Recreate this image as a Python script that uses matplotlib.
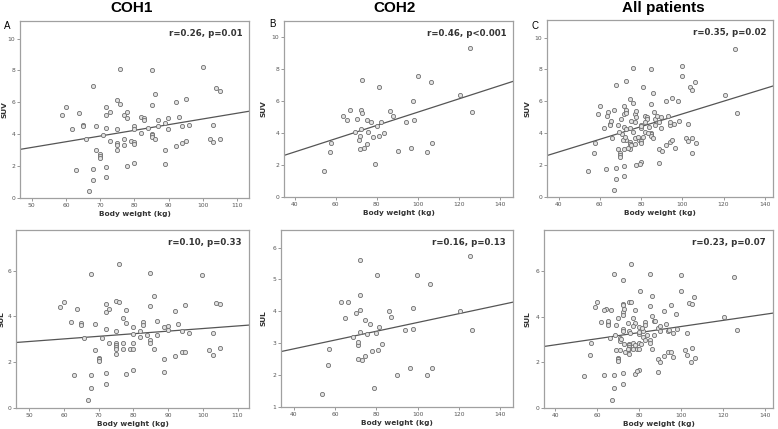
import numpy as np
import matplotlib
matplotlib.use('Agg')
import matplotlib.pyplot as plt

# COH1 : body weight (kg) vs SUV / SUL
w1_suv = [58.9, 59.9, 61.9, 62.9, 63.9, 64.9, 64.9, 65.9, 66.7, 67.9, 67.9, 67.8, 68.9, 68.9, 69.9, 69.9,
          69.9, 70.8, 71.8, 71.8, 71.8, 71.8, 71.8, 72.9, 72.9, 74.8, 74.8, 74.8, 74.8, 74.8, 75.9, 75.9,
          76.9, 76.9, 76.9, 77.8, 77.8, 77.8, 78.9, 79.9, 79.9, 79.9, 79.9, 79.9, 81.9, 81.9, 82.8, 82.9,
          84.0, 85.0, 85.0, 85.0, 85.0, 85.0, 85.9, 85.9, 86.9, 86.9, 88.8, 88.8, 88.8, 89.9, 89.9, 92.0,
          92.0, 92.9, 93.9, 93.9, 94.9, 94.9, 96.0, 99.9, 101.9, 102.9, 102.9, 103.9, 104.9, 104.9]
suv1 = [5.2, 5.69, 4.31, 1.77, 5.31, 4.6, 4.5, 3.73, 0.42, 7.0, 1.81, 1.1, 4.5, 3.02, 2.75, 2.63,
        2.52, 3.92, 5.69, 5.2, 4.42, 1.92, 1.31, 5.42, 3.6, 6.13, 4.31, 3.44, 3.35, 3.02, 8.1, 5.9,
        5.2, 3.73, 3.31, 5.4, 5.0, 2.02, 3.6, 4.5, 4.31, 3.52, 3.4, 2.21, 5.1, 4.1, 5.0, 4.92,
        4.42, 8.02, 5.81, 4.02, 3.92, 3.8, 6.5, 3.73, 4.92, 4.5, 4.71, 3.02, 2.13, 5.0, 4.31, 6.0,
        3.23, 5.1, 4.5, 3.44, 6.21, 3.6, 4.6, 8.19, 3.73, 4.6, 3.52, 6.9, 6.71, 3.73]

w1_sul = [58.9, 60.0, 61.9, 63.0, 63.9, 65.0, 65.0, 65.9, 66.9, 67.9, 67.9, 67.9, 68.9, 68.9, 70.0, 70.0,
          70.0, 70.9, 72.0, 72.0, 72.0, 72.0, 72.0, 72.9, 72.9, 75.0, 75.9, 75.0, 75.0, 75.0, 75.0, 75.0,
          75.0, 75.9, 77.0, 77.0, 77.0, 77.9, 77.9, 77.9, 78.9, 79.9, 79.9, 79.9, 79.9, 79.9, 82.0, 82.0,
          82.9, 82.9, 83.9, 84.9, 84.9, 84.9, 84.9, 85.9, 85.9, 86.9, 86.9, 88.9, 88.9, 88.9, 89.9, 89.9,
          91.9, 91.9, 92.9, 93.9, 93.9, 94.9, 94.9, 95.9, 99.9, 101.9, 102.9, 102.9, 103.9, 104.9, 104.9]
sul1 = [4.41, 4.63, 3.77, 1.43, 4.34, 3.72, 3.62, 3.08, 0.34, 5.85, 1.46, 0.89, 3.65, 2.55, 2.19, 2.13,
        2.06, 3.07, 4.54, 4.2, 3.47, 1.55, 1.05, 4.34, 2.82, 4.66, 4.64, 3.36, 2.82, 2.74, 2.66, 2.6,
        2.38, 6.31, 3.93, 2.85, 2.6, 4.29, 3.72, 1.5, 2.6, 3.56, 3.24, 2.85, 2.6, 1.65, 3.36, 3.09,
        3.75, 3.64, 3.21, 4.45, 5.88, 2.98, 2.85, 4.9, 2.58, 3.82, 3.21, 3.52, 2.16, 1.56, 3.58, 3.39,
        4.25, 2.29, 3.66, 3.36, 2.45, 4.51, 2.44, 3.27, 5.8, 2.54, 3.27, 2.31, 4.6, 4.53, 2.64]

# COH2
w2_suv = [54.1, 57.4, 57.9, 63.7, 65.6, 66.9, 69.2, 70.5, 71.4, 71.7, 72.0, 72.5, 72.8, 72.5, 72.8, 73.8,
          75.1, 75.1, 75.9, 77.3, 78.3, 79.3, 80.1, 80.9, 81.1, 81.9, 83.3, 86.4, 87.7, 90.2, 94.2, 96.5,
          97.8, 98.3, 100.1, 104.6, 106.4, 106.9, 120.7, 125.4, 126.5]
suv2 = [1.6, 2.79, 3.4, 5.08, 4.79, 5.46, 4.08, 4.9, 3.58, 3.0, 3.79, 5.46, 5.25, 4.25, 7.29, 3.08,
        4.79, 3.29, 4.08, 4.69, 3.75, 2.08, 4.46, 6.88, 3.79, 4.69, 4.0, 5.35, 5.08, 2.9, 4.69, 3.08,
        6.0, 4.79, 7.58, 2.79, 7.19, 3.4, 6.4, 9.29, 5.29]

w2_sul = [53.6, 56.6, 57.1, 63.1, 65.0, 66.5, 68.6, 70.0, 71.0, 71.2, 71.0, 72.0, 72.3, 72.0, 72.3, 73.1,
          74.6, 74.7, 75.5, 77.0, 77.8, 78.8, 79.7, 80.5, 80.7, 81.5, 82.8, 86.0, 87.3, 89.8, 94.0, 96.1,
          97.5, 97.8, 99.9, 104.5, 106.2, 106.7, 120.5, 125.3, 126.4]
sul2 = [1.4, 2.32, 2.83, 4.29, 3.79, 4.29, 3.19, 3.96, 2.93, 3.04, 2.52, 4.52, 4.05, 3.35, 5.61, 2.46,
        3.73, 2.6, 3.3, 3.6, 2.75, 1.6, 3.33, 5.14, 2.78, 3.5, 2.97, 4.02, 3.82, 2.01, 3.41, 2.23,
        4.1, 3.46, 5.14, 2.01, 4.85, 2.21, 4.0, 5.74, 3.42]

# all patients = both cohorts together
w_all_suv = w1_suv + w2_suv
suv_all = suv1 + suv2
w_all_sul = w1_sul + w2_sul
sul_all = sul1 + sul2

# regression lines (intercept, slope) and stats as printed
fits = {'A': (1.38, 0.0358), 'B': (1.155, 0.0415), 'C': (1.23, 0.0398),
        'D': (2.34, 0.01133), 'E': (2.27, 0.01381), 'F': (2.23, 0.01338)}
stats = {'A': 'r=0.26, p=0.01', 'B': 'r=0.46, p<0.001', 'C': 'r=0.35, p=0.02',
         'D': 'r=0.10, p=0.33', 'E': 'r=0.16, p=0.13', 'F': 'r=0.23, p=0.07'}
titles = ['COH1', 'COH2', 'All patients']


W, H = 778, 429
fig = plt.figure(figsize=(W / 100, H / 100), dpi=100)

def px_axes(l, r, t, b):
    return fig.add_axes([l / W, 1 - b / H, (r - l) / W, (b - t) / H])

def panel(ax, x, y, key, ylabel, xlim, ylim, xticks, yticks, ylab_x):
    ax.scatter(x, y, s=9, facecolor='#e2e2e2', edgecolor='#6e6e6e', linewidth=0.6, zorder=3)
    a, b = fits[key]
    xx = np.array(xlim)
    ax.plot(xx, a + b * xx, color='#555555', lw=0.9, zorder=2)
    ax.set_xlim(xlim)
    ax.set_ylim(ylim)
    ax.set_xticks(xticks)
    ax.set_yticks(yticks)
    for s in ax.spines.values():
        s.set_color('#a0a0a0')
        s.set_linewidth(0.9)
    ax.tick_params(length=2, width=0.6, color='#888888', labelsize=4.3, labelcolor='#555555', pad=1.5)
    ax.set_ylabel(ylabel, fontsize=5.3, fontweight='bold', color='#333333')
    # label position given in figure pixels, converted to axes fraction
    bb = ax.get_position()
    ax.yaxis.set_label_coords((ylab_x / W - bb.x0) / bb.width, 0.5)
    ax.set_xlabel('Body weight (kg)', fontsize=5.3, fontweight='bold', labelpad=2.5, color='#333333')
    ax.text(0.97, 0.93, stats[key], transform=ax.transAxes, ha='right', va='center',
            fontsize=6.2, fontweight='bold', color='#333333')


axA = px_axes(20, 249, 21, 198)
panel(axA, w1_suv, suv1, 'A', 'SUV', (46.6, 113.4), (0, 11.1), range(50, 111, 10), range(0, 11, 2), 8)
axB = px_axes(284, 513, 21, 197)
panel(axB, w2_suv, suv2, 'B', 'SUV', (34.8, 146.3), (0, 11.0), range(40, 141, 20), range(0, 11, 2), 267)
axC = px_axes(547, 773, 20, 197)
panel(axC, w_all_suv, suv_all, 'C', 'SUV', (34.4, 144.0), (0, 11.1), range(40, 141, 20), range(0, 11, 2), 530)

axD = px_axes(16, 249, 230, 408)
panel(axD, w1_sul, sul1, 'D', 'SUL', (46.2, 113.3), (0, 7.78), range(50, 111, 10), range(0, 7, 2), 5)
axE = px_axes(281, 513, 230, 407)
panel(axE, w2_sul, sul2, 'E', 'SUL', (33.9, 146.1), (1, 6.55), range(40, 141, 20), range(1, 7, 1), 267)
axF = px_axes(544, 773, 230, 408)
panel(axF, w_all_sul, sul_all, 'F', 'SUL', (34.6, 143.7), (0, 7.79), range(40, 141, 20), range(0, 7, 2), 530)

# column titles and panel letters
for cx, t in zip([132, 395, 663], titles):
    fig.text(cx / W, 1 - 8 / H, t, ha='center', va='center', fontsize=11,
             fontweight='bold', family='Liberation Sans')
for lx, ly, lab in [(7, 26, 'A'), (272, 24, 'B'), (535, 26, 'C')]:
    fig.text(lx / W, 1 - ly / H, lab, ha='center', va='center', fontsize=7, family='Liberation Sans')

plt.savefig('out.png', dpi=100)
